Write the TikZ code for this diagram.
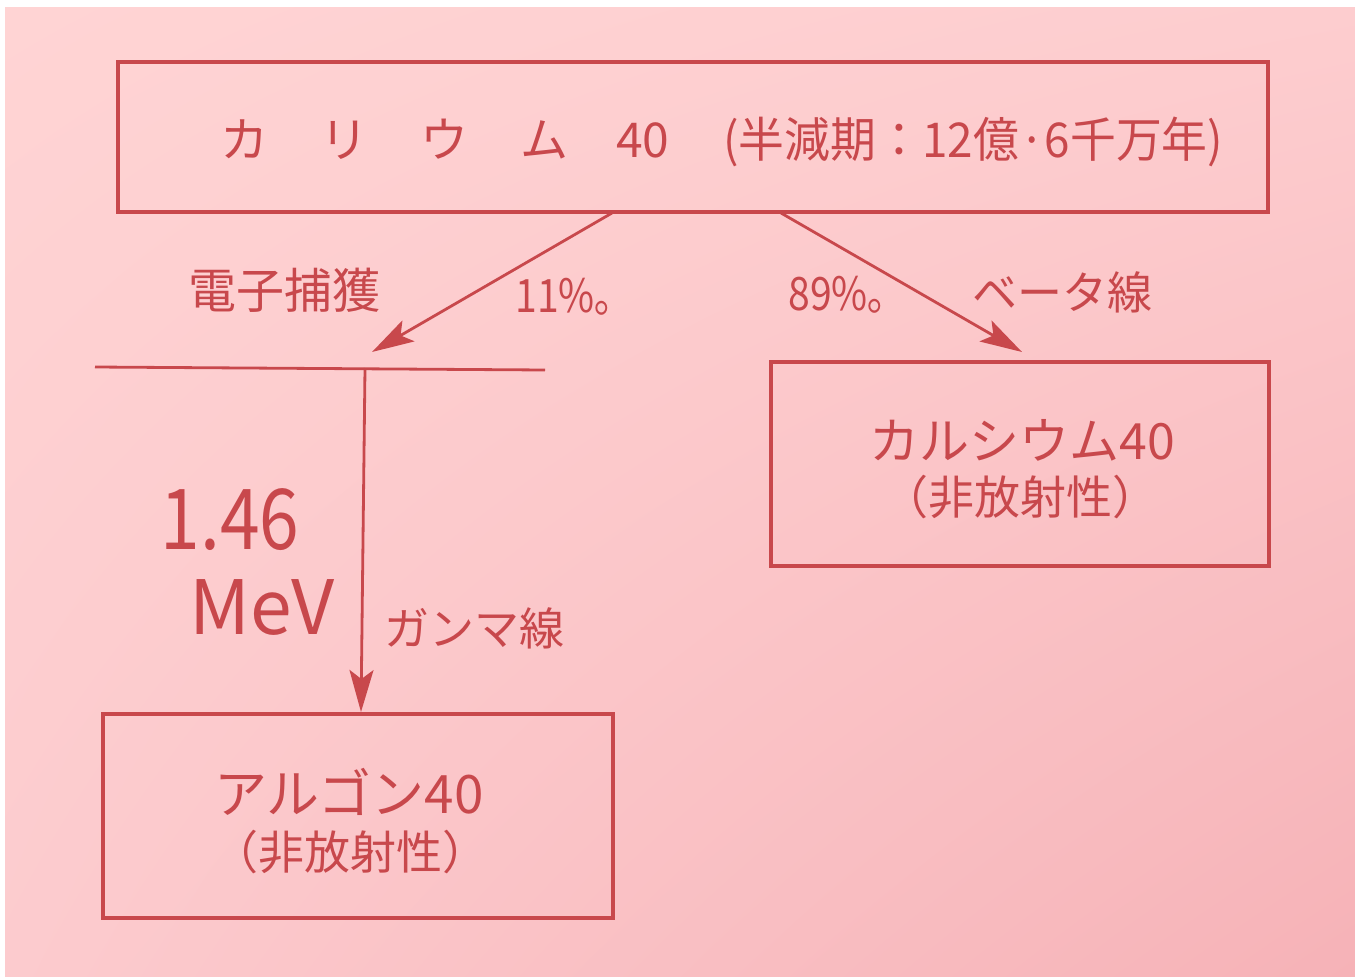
\documentclass[tikz,border=0pt]{standalone}
\usepackage{fontspec}
\setmainfont{Noto Sans CJK JP}
\usetikzlibrary{arrows.meta,shadings}
\definecolor{ink}{RGB}{200,72,76}
\definecolor{bgUL}{RGB}{255,212,212}
\definecolor{bgUR}{RGB}{253,205,207}
\definecolor{bgLL}{RGB}{252,203,206}
\definecolor{bgLR}{RGB}{246,178,183}
\begin{document}
\begin{tikzpicture}[x=1pt,y=-1pt,
  box/.style={draw=ink, line width=3.2pt, rectangle, inner sep=0pt},
  lbl/.style={text=ink, inner sep=0pt, font=\fontsize{#1}{#1}\selectfont},
  arr/.style={draw=ink, line width=2.8pt, -{Stealth[length=42pt,width=24pt,inset=9pt]}},
  level/.style={draw=ink, line width=2.8pt}
 ]
\useasboundingbox (0,0) rectangle (1355,977);
\fill[white] (0,0) rectangle (1355,977);
\shade[upper left=bgUL, upper right=bgUR, lower left=bgLL, lower right=bgLR] (5,7) rectangle (1355,977);

% boxes
\node[box, minimum width=1150pt, minimum height=150pt] (K) at (693,137) {};
\node[box, minimum width=498pt, minimum height=204pt] (Ca) at (1020,464) {};
\node[box, minimum width=510pt, minimum height=204pt] (Ar) at (358,816) {};

% box texts
\node[lbl=48, anchor=base west] (Kt) at (220,157)
  {カ\hspace{52pt}リ\hspace{52pt}ウ\hspace{52pt}ム\hspace{48pt}40\hspace{54pt}\scalebox{0.955}[1]{(半減期：12億·6千万年)}};
\node[lbl=50] (Cat1) at (1022,440) {カルシウム40};
\node[lbl=46] (Cat2) at (1020,497) {（非放射性）};
\node[lbl=53] (Art1) at (349,792) {アルゴン40};
\node[lbl=46] (Art2) at (350,852) {（非放射性）};

% connector coordinates
\coordinate (kL) at (612,213);
\coordinate (kR) at (781,213);
\coordinate (ec) at (372,352);
\coordinate (caT) at (1022,352);
\coordinate (l1) at (95,367);
\coordinate (l2) at (545,370);
\coordinate (lv) at (365,368);
\coordinate (arT) at (361,712);

\draw[arr] (kL) -- (ec);
\draw[arr] (kR) -- (caT);
\draw[level] (l1) -- (l2);
\draw[arr] (lv) -- (arT);

% labels
\node[lbl=48] (ecl) at (284,290) {電子捕獲};
\node[lbl=46] (p11) at (565,297) {\scalebox{0.85}[1]{11\%｡}};
\node[lbl=46] (p89) at (838,295) {\scalebox{0.85}[1]{89\%｡}};
\node[lbl=45] (beta) at (1062,292) {ベータ線};
\node[lbl=84] (en1) at (230,520) {\scalebox{0.85}[1]{1.46}};
\node[lbl=75] (en2) at (262,607) {MeV};
\node[lbl=45] (gam) at (474,628) {ガンマ線};
\end{tikzpicture}
\end{document}
